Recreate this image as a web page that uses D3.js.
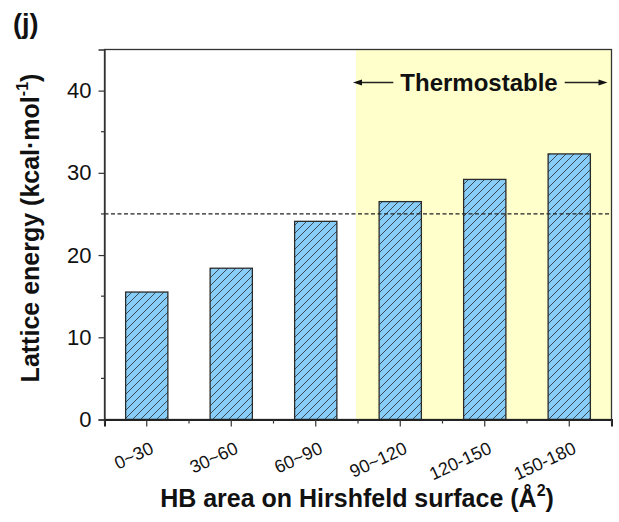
<!DOCTYPE html>
<html>
<head>
<meta charset="utf-8">
<script src="https://cdn.jsdelivr.net/npm/d3@7"></script>
<style>
  html, body { margin: 0; padding: 0; background: #fff; }
  svg { display: block; font-family: Arial, "Liberation Sans", sans-serif; }
</style>
</head>
<body>
<svg id="chart" width="619" height="522"></svg>
<script>
// HB-area bins and their lattice energies (kcal/mol)
const categories = ["0~30", "30~60", "60~90", "90~120", "120-150", "150-180"];
const latticeEnergy = [15.5, 18.4, 24.1, 26.5, 29.2, 32.3];
const yTicks = [0, 10, 20, 30, 40];
const yMinorTicks = [5, 15, 25, 35];
const yMax = 45;
const thresholdEnergy = 25;
const thermostableFirst = "90~120";
const thermostableLabel = "Thermostable";

const FONT = "Arial, 'Liberation Sans', sans-serif";
const svg = d3.select("#chart");
const plotLeft = 104.5, plotRight = 611.5, plotTop = 49.5, plotBottom = 419.5;

const x = d3.scaleBand().domain(categories).range([plotLeft, plotRight]).paddingInner(0.5).paddingOuter(0.25);
const y = d3.scaleLinear().domain([0, yMax]).range([plotBottom, plotTop]);

// Diagonal hatch for the bars
const defs = svg.append("defs");
const hatch = defs.append("pattern")
  .attr("id", "hatch").attr("patternUnits", "userSpaceOnUse")
  .attr("width", 8).attr("height", 8);
hatch.append("rect").attr("width", 8).attr("height", 8).attr("fill", "#87cdf8");
hatch.append("path").attr("d", "M-2,2 L2,-2 M0,8 L8,0 M6,10 L10,6")
  .attr("stroke", "#3a4a55").attr("stroke-width", 1);

// Highlighted thermostable region
const step = x.step();
const regionStart = x(thermostableFirst) - (step - x.bandwidth()) / 2 - 2;
svg.append("rect")
  .attr("x", regionStart).attr("y", plotTop)
  .attr("width", plotRight - regionStart).attr("height", plotBottom - plotTop)
  .attr("fill", "#ffffcc");

// Bars
svg.append("g").selectAll("rect").data(categories).join("rect")
  .attr("x", d => x(d))
  .attr("y", (d, i) => y(latticeEnergy[i]))
  .attr("width", x.bandwidth())
  .attr("height", (d, i) => y(0) - y(latticeEnergy[i]))
  .attr("fill", "url(#hatch)")
  .attr("stroke", "#2b2b2b").attr("stroke-width", 1.3);

// Threshold line
svg.append("line")
  .attr("x1", plotLeft).attr("x2", plotRight)
  .attr("y1", y(thresholdEnergy)).attr("y2", y(thresholdEnergy))
  .attr("stroke", "#222").attr("stroke-width", 1.2)
  .attr("stroke-dasharray", "4,2.5");

// Frame
svg.append("rect")
  .attr("x", plotLeft).attr("y", plotTop).attr("width", plotRight - plotLeft).attr("height", plotBottom - plotTop)
  .attr("fill", "none").attr("stroke", "#333").attr("stroke-width", 1.3);

// Y axis
const yAxis = svg.append("g").attr("transform", `translate(${plotLeft},0)`)
  .call(d3.axisLeft(y).tickValues(yTicks).tickSize(6).tickPadding(7));
yAxis.select(".domain").attr("stroke", "#333").attr("stroke-width", 1.3);
yAxis.selectAll(".tick line").attr("stroke", "#333").attr("stroke-width", 1.2);
yAxis.selectAll(".tick text").attr("font-size", 22).attr("fill", "#111")
  .attr("font-family", FONT);
svg.append("g").selectAll("line").data(yMinorTicks).join("line")
  .attr("x1", plotLeft - 3.5).attr("x2", plotLeft)
  .attr("y1", d => y(d)).attr("y2", d => y(d))
  .attr("stroke", "#333").attr("stroke-width", 1.2);

// X axis
const xAxis = svg.append("g").attr("transform", `translate(0,${plotBottom})`)
  .call(d3.axisBottom(x).tickSize(7).tickPadding(4));
xAxis.select(".domain").attr("stroke", "#222").attr("stroke-width", 2);
xAxis.selectAll(".tick line").attr("stroke", "#333").attr("stroke-width", 1.2);
xAxis.selectAll(".tick text")
  .attr("font-size", 18).attr("fill", "#111")
  .attr("font-family", FONT)
  .attr("text-anchor", "end")
  .attr("x", 0).attr("y", 0).attr("dy", "0")
  .attr("transform", "translate(8,33) rotate(-25)");
// Minor ticks between categories
const boundaries = d3.range(categories.length + 1).map(i => plotLeft + i * step);
svg.append("g").selectAll("line").data(boundaries).join("line")
  .attr("x1", d => d).attr("x2", d => d)
  .attr("y1", plotBottom).attr("y2", plotBottom + 4)
  .attr("stroke", "#333").attr("stroke-width", 1.2);

// Thermostable annotation with double arrow
const annY = 82.5;
const textX = 479;
const ann = svg.append("text")
  .attr("x", textX).attr("y", annY + 8.5)
  .attr("text-anchor", "middle")
  .attr("font-size", 24).attr("font-weight", "bold").attr("fill", "#111")
  .text(thermostableLabel);
const tw = ann.node().getComputedTextLength();
const arrowL = regionStart - 3, arrowR = plotRight - 4;
svg.append("line").attr("x1", arrowL + 6).attr("x2", textX - tw / 2 - 7)
  .attr("y1", annY).attr("y2", annY).attr("stroke", "#222").attr("stroke-width", 1.3);
svg.append("line").attr("x1", textX + tw / 2 + 7).attr("x2", arrowR - 6)
  .attr("y1", annY).attr("y2", annY).attr("stroke", "#222").attr("stroke-width", 1.3);
svg.append("path").attr("d", `M${arrowL},${annY} L${arrowL + 9},${annY - 3} L${arrowL + 9},${annY + 3} Z`).attr("fill", "#111");
svg.append("path").attr("d", `M${arrowR},${annY} L${arrowR - 9},${annY - 3} L${arrowR - 9},${annY + 3} Z`).attr("fill", "#111");

// Axis titles
const xTitle = svg.append("text")
  .attr("x", 357).attr("y", 507)
  .attr("text-anchor", "middle")
  .attr("font-size", 25).attr("font-weight", "bold").attr("fill", "#111");
xTitle.append("tspan").text("HB area on Hirshfeld surface (Å");
xTitle.append("tspan").attr("font-size", 16).attr("dy", -11).text("2");
xTitle.append("tspan").attr("dy", 11).text(")");

const yTitle = svg.append("text")
  .attr("transform", "translate(39,228) rotate(-90)")
  .attr("text-anchor", "middle")
  .attr("font-size", 25).attr("font-weight", "bold").attr("fill", "#111");
yTitle.append("tspan").text("Lattice energy (kcal·mol");
yTitle.append("tspan").attr("font-size", 16).attr("dy", -11).text("-1");
yTitle.append("tspan").attr("dy", 11).text(")");

// Panel label
svg.append("text").attr("x", 13).attr("y", 33)
  .attr("font-size", 27).attr("font-weight", "bold").attr("fill", "#111")
  .text("(j)");
</script>
</body>
</html>
